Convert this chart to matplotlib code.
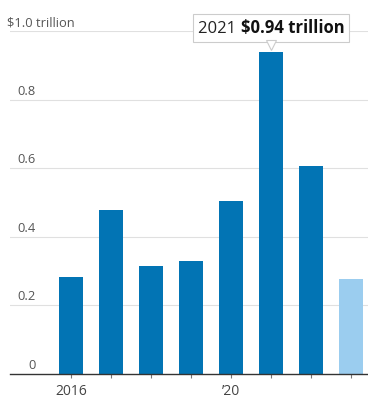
#!/usr/bin/env python3
"""Bar chart of annual totals in trillions of dollars, 2016-2023, with a 2021 callout."""

import matplotlib
matplotlib.use("Agg")
import matplotlib.pyplot as plt
import matplotlib.transforms as mtransforms
from matplotlib.offsetbox import AnnotationBbox, HPacker, TextArea

years = [2016, 2017, 2018, 2019, 2020, 2021, 2022, 2023]
values = [0.283, 0.478, 0.315, 0.328, 0.503, 0.94, 0.607, 0.275]
partial_year = [False, False, False, False, False, False, False, True]

y_ticks = [0, 0.2, 0.4, 0.6, 0.8, 1.0]
y_labels = ["0", "0.2", "0.4", "0.6", "0.8", "$1.0 trillion"]
x_tick_labels = {2016: "2016", 2020: "\u201920"}

DARK = "#0274b4"
LIGHT = "#9bcdef"
TEXT = "#555555"

plt.rcParams["font.family"] = ["Open Sans", "DejaVu Sans"]

fig = plt.figure(figsize=(3.68, 3.98), dpi=100)
ax = fig.add_axes([10 / 368, 24.5 / 398, 358 / 368, 342.5 / 398])

colors = [LIGHT if p else DARK for p in partial_year]
ax.bar(years, values, width=0.6, color=colors, zorder=3)

ax.set_xlim(2014.47, 2023.42)
ax.set_ylim(0, 1.0)

# gridlines + labels sitting on top of them
lift = mtransforms.offset_copy(
    mtransforms.blended_transform_factory(ax.transAxes, ax.transData),
    fig=fig, y=3.5, units="points",
)
for yt, lab in zip(y_ticks, y_labels):
    if yt > 0:
        ax.axhline(yt, color="#e0e0e0", linewidth=0.8, zorder=1)
    if lab.startswith("$"):
        ax.text(-0.008, yt, lab, transform=lift, ha="left", va="baseline",
                fontsize=9.3, color=TEXT, clip_on=False)
    else:
        ax.text(0.0726, yt, lab, transform=lift, ha="right", va="baseline",
                fontsize=9.3, color=TEXT)
ax.set_yticks([])

ax.set_xticks(years)
ax.set_xticklabels([x_tick_labels.get(y, "") for y in years], fontsize=10, color="#444444")
ax.tick_params(axis="x", length=3, width=0.8, color="#777777", pad=4.5)

for side in ["top", "right", "left"]:
    ax.spines[side].set_visible(False)
ax.spines["bottom"].set_color("#333333")
ax.spines["bottom"].set_linewidth(1.0)
ax.spines["bottom"].set_zorder(4)

# callout above the peak bar
peak = max(range(len(values)), key=lambda i: values[i])
label = HPacker(
    children=[
        TextArea(f"{years[peak]} ", textprops=dict(fontsize=12, color="#222222")),
        TextArea(f"${values[peak]:.2f} trillion",
                 textprops=dict(fontsize=12, color="#111111", fontweight="bold")),
    ],
    align="baseline", pad=0, sep=0,
)
ab = AnnotationBbox(
    label, (years[peak], values[peak]),
    xybox=(0, 17), boxcoords="offset points",
    frameon=True, box_alignment=(0.5, 0.5), pad=0.35,
    bboxprops=dict(boxstyle="square,pad=0.35", facecolor="white",
                   edgecolor="#cccccc", linewidth=0.8),
    annotation_clip=False, zorder=6,
)
ax.add_artist(ab)
tip = mtransforms.offset_copy(ax.transData, fig=fig, y=4.5, units="points")
ax.plot(years[peak], values[peak], marker="v", markersize=7, color="white",
        markeredgecolor="#cccccc", markeredgewidth=0.8, transform=tip,
        clip_on=False, zorder=7)

fig.savefig("out.png", dpi=100, facecolor="white")
